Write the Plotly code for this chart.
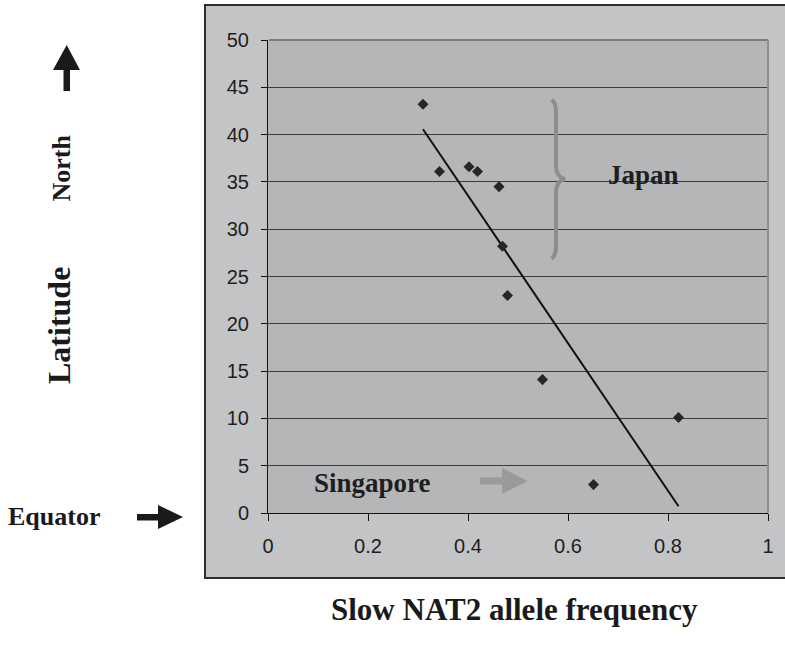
import numpy as np
import plotly.graph_objects as go

# ---- data ----
nat2_freq = [0.310, 0.343, 0.402, 0.419, 0.462, 0.469, 0.479, 0.549, 0.651, 0.821]
latitude = [43.2, 36.1, 36.6, 36.1, 34.5, 28.2, 23.0, 14.1, 3.0, 10.1]

x_ticks = [0, 0.2, 0.4, 0.6, 0.8, 1]
x_ticktext = ["0", "0.2", "0.4", "0.6", "0.8", "1"]
y_ticks = [0, 5, 10, 15, 20, 25, 30, 35, 40, 45, 50]

x_title = "Slow NAT2 allele frequency"
y_title = "Latitude"

# linear trend line (least squares) over the data range
slope, intercept = np.polyfit(nat2_freq, latitude, 1)
trend_x = [min(nat2_freq), max(nat2_freq)]
trend_y = [slope * v + intercept for v in trend_x]

W, H = 785, 645
L, R, T, B = 268, 17, 40, 132
PW, PH = W - L - R, H - T - B


def px(xp):
    return (xp - L) / PW


def py(yp):
    return (H - B - yp) / PH


serif = "Liberation Serif, Times New Roman, serif"
sans = "Liberation Sans, Arial, sans-serif"

fig = go.Figure()
fig.add_trace(go.Scatter(
    x=trend_x, y=trend_y, mode="lines",
    line=dict(color="#111111", width=2), hoverinfo="skip", showlegend=False))
fig.add_trace(go.Scatter(
    x=nat2_freq, y=latitude, mode="markers",
    marker=dict(symbol="diamond", size=8.5, color="#262626"),
    showlegend=False))

shapes = []
# outer grey chart area
shapes.append(dict(type="rect", xref="paper", yref="paper", layer="below",
                   x0=px(205), x1=px(800), y0=py(578), y1=py(5),
                   fillcolor="#c3c4c6", line=dict(color="#2e2e2e", width=2)))
# inner plot area
shapes.append(dict(type="rect", xref="paper", yref="paper", layer="below",
                   x0=0, x1=1, y0=0, y1=1,
                   fillcolor="#b5b6b8", line=dict(width=0)))
# light top / right border of plot area
shapes.append(dict(type="line", xref="paper", yref="paper", layer="above",
                   x0=0.002, x1=1, y0=1, y1=1, line=dict(color="#7c7c7c", width=2)))
shapes.append(dict(type="line", xref="paper", yref="paper", layer="above",
                   x0=1, x1=1, y0=0, y1=1, line=dict(color="#8e8e8e", width=2)))
# Japan brace
shapes.append(dict(type="path", xref="x", yref="y", layer="above",
                   path=("M 0.567,43.66 Q 0.576,43.4 0.576,42.4 L 0.576,36.6 "
                         "Q 0.577,35.5 0.594,35.3 Q 0.577,35.1 0.576,34.0 "
                         "L 0.576,28.2 Q 0.576,27.2 0.567,26.9"),
                   line=dict(color="#8d8d8d", width=4)))
# Singapore arrow (grey block arrow)
shapes.append(dict(type="path", xref="x", yref="y", layer="above",
                   path=("M 0.424,3.75 L 0.468,3.75 L 0.468,4.76 L 0.519,3.38 "
                         "L 0.468,2.0 L 0.468,3.0 L 0.424,3.0 Z"),
                   fillcolor="#9a9a9a", line=dict(width=0)))
# North arrow (black, up)
shapes.append(dict(type="path", xref="paper", yref="paper", layer="above",
                   path=(f"M {px(63.5)},{py(91)} L {px(70)},{py(91)} L {px(70)},{py(70)} "
                         f"L {px(80)},{py(70)} L {px(66.7)},{py(45)} L {px(53)},{py(70)} "
                         f"L {px(63.5)},{py(70)} Z"),
                   fillcolor="#1a1a1a", line=dict(width=0)))
# Equator arrow (black, right)
shapes.append(dict(type="path", xref="paper", yref="paper", layer="above",
                   path=(f"M {px(137)},{py(514)} L {px(158)},{py(514)} L {px(158)},{py(505)} "
                         f"L {px(183)},{py(517)} L {px(158)},{py(529)} L {px(158)},{py(520.5)} "
                         f"L {px(137)},{py(520.5)} Z"),
                   fillcolor="#1a1a1a", line=dict(width=0)))

annotations = [
    dict(text="<b>Japan</b>", x=0.751, y=35.75, xref="x", yref="y", showarrow=False,
         xanchor="center", yanchor="middle", font=dict(family=serif, size=27, color="#1e1e1e")),
    dict(text="<b>Singapore</b>", x=0.209, y=3.2, xref="x", yref="y", showarrow=False,
         xanchor="center", yanchor="middle", font=dict(family=serif, size=27, color="#1e1e1e")),
    dict(text=f"<b>{x_title}</b>", x=px(514), y=py(609), xref="paper", yref="paper",
         showarrow=False, xanchor="center", yanchor="middle",
         font=dict(family=serif, size=31, color="#1a1a1a")),
    dict(text=f"<b>{y_title}</b>", x=px(59), y=py(326), xref="paper", yref="paper",
         showarrow=False, xanchor="center", yanchor="middle", textangle=-90,
         font=dict(family=serif, size=32, color="#1a1a1a")),
    dict(text="<b>North</b>", x=px(61), y=py(168.5), xref="paper", yref="paper",
         showarrow=False, xanchor="center", yanchor="middle", textangle=-90,
         font=dict(family=serif, size=26, color="#1a1a1a")),
    dict(text="<b>Equator</b>", x=px(53.5), y=py(516), xref="paper", yref="paper",
         showarrow=False, xanchor="center", yanchor="middle",
         font=dict(family=serif, size=26, color="#1a1a1a")),
]

fig.update_layout(
    width=W, height=H,
    margin=dict(l=L, r=R, t=T, b=B, pad=0),
    paper_bgcolor="white",
    plot_bgcolor="rgba(0,0,0,0)",
    shapes=shapes,
    annotations=annotations,
    xaxis=dict(range=[0, 1], tickvals=x_ticks, ticktext=x_ticktext,
               showgrid=False, zeroline=False,
               showline=True, linecolor="#111111", linewidth=1,
               ticks="outside", ticklen=7, tickcolor="#111111", tickwidth=1,
               ticklabelstandoff=8,
               tickfont=dict(family=sans, size=20, color="#1e1e1e")),
    yaxis=dict(range=[0, 50], tickvals=y_ticks,
               showgrid=True, gridcolor="#3c3c3c", gridwidth=1, zeroline=False,
               showline=True, linecolor="#111111", linewidth=1,
               ticks="outside", ticklen=6, tickcolor="#111111", tickwidth=1,
               ticklabelstandoff=8,
               tickfont=dict(family=sans, size=20, color="#1e1e1e")),
)

fig.write_html(
    "out.html",
    config={"displayModeBar": False},
    post_script="document.body.style.margin='0';document.body.style.overflow='hidden';",
)
